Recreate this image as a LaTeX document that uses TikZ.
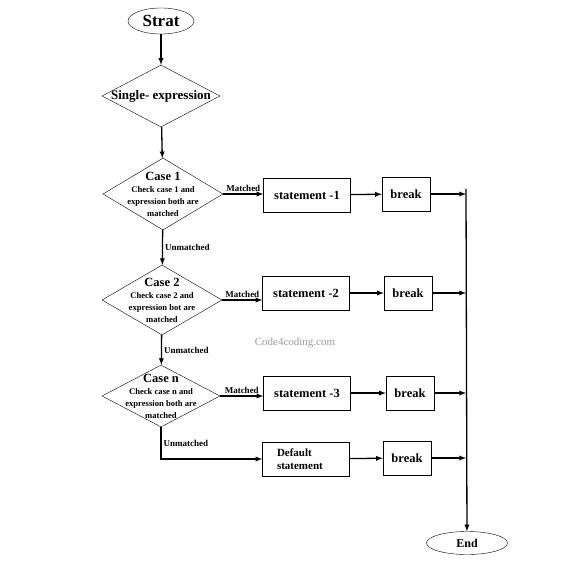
\documentclass[tikz,border=0pt]{standalone}
\usepackage{fontspec}
\setmainfont{Liberation Serif}
\usetikzlibrary{shapes.geometric}

\newcommand{\casefont}{\fontsize{12.5}{13}\selectfont}
\newcommand{\notefont}{\fontsize{8.6}{10.6}\selectfont}

\tikzset{
    terminal/.style={draw,ellipse,inner sep=0pt,font=\bfseries},
    decision/.style={draw,diamond,inner sep=0pt,minimum width=120pt,minimum height=70pt},
    process/.style={draw,rectangle,minimum width=87pt,minimum height=34pt,font=\fontsize{12.5}{14}\selectfont\bfseries},
    breakbox/.style={draw,rectangle,minimum width=48pt,minimum height=34pt,font=\fontsize{12.5}{14}\selectfont\bfseries},
    flow/.style={-latex,line width=1.3pt},
    tag/.style={font=\fontsize{9}{10}\selectfont\bfseries,inner sep=2pt}
}

\begin{document}
\begin{tikzpicture}[x=1pt,y=-1pt]
    \useasboundingbox (0,0) rectangle (566,569);
    % left column
    \node[terminal,minimum width=66pt,minimum height=26pt,font=\fontsize{17}{18}\selectfont\bfseries] (start) at (161,21) {Strat};
    \node[decision,minimum width=118pt,minimum height=62pt,
        label={[font=\fontsize{13}{14}\selectfont\bfseries]center:Single- expression}] (expr) at (161,96) {};
    \node[decision,minimum height=72pt,
        label={[align=center,font=\bfseries]center:{\casefont Case 1\\ \notefont Check case 1 and\\ \notefont expression both are\\ \notefont matched}}] (case1) at (163,194) {};
    \node[decision,
        label={[align=center,font=\bfseries]center:{\casefont Case 2\\ \notefont Check case 2 and\\ \notefont expression bot are\\ \notefont matched}}] (case2) at (162,300) {};
    \node[decision,minimum width=118pt,minimum height=62pt,
        label={[align=center,font=\bfseries]center:{\casefont Case n\\ \notefont Check case n and\\ \notefont expression both are\\ \notefont matched}}] (casen) at (161,396) {};

    % statements and breaks
    \node[process] (stmt1) at (307,195) {statement -1};
    \node[process] (stmt2) at (306,293) {statement -2};
    \node[process] (stmt3) at (307,393) {statement -3};
    \node[process,text width=58pt,align=left,font=\fontsize{11}{12.5}\selectfont\bfseries] (dflt) at (306,459) {Default\\statement};
    \node[breakbox] (brk1) at (406,194) {break};
    \node[breakbox] (brk2) at (408,293) {break};
    \node[breakbox] (brk3) at (410,393) {break};
    \node[breakbox] (brk4) at (407,458) {break};

    \node[terminal,minimum width=81pt,minimum height=23pt,font=\fontsize{12}{13}\selectfont\bfseries] (end) at (467,543) {End};
    \coordinate (bus) at (466,189);

    \node[gray!80,font=\fontsize{11}{12}\selectfont] (watermark) at (295,343) {Code4coding.com};

    % connectors
    \draw[flow] (start) -- (expr);
    \draw[flow] (expr) -- (case1);
    \draw[flow] (case1) -- (case2) node[midway,right,tag] {Unmatched};
    \draw[flow] (case2) -- (casen) node[midway,right,tag] {Unmatched};
    \draw[flow] (casen.south) |- (dflt.west) node[pos=0.25,right,tag] {Unmatched};

    \draw[flow] (case1.east) -- (case1.east -| stmt1.west) node[midway,above,tag] {Matched};
    \draw[flow] (case2.east) -- (case2.east -| stmt2.west) node[midway,above,tag] {Matched};
    \draw[flow] (casen.east) -- (casen.east -| stmt3.west) node[midway,above,tag] {Matched};

    \draw[flow] (stmt1) -- (brk1);
    \draw[flow] (stmt2) -- (brk2);
    \draw[flow] (stmt3) -- (brk3);
    \draw[flow] (dflt) -- (brk4);

    \draw[flow] (brk1.east) -- (brk1.east -| bus);
    \draw[flow] (brk2.east) -- (brk2.east -| bus);
    \draw[flow] (brk3.east) -- (brk3.east -| bus);
    \draw[flow] (brk4.east) -- (brk4.east -| bus);
    \draw[flow] (bus) -- (end);
\end{tikzpicture}
\end{document}
